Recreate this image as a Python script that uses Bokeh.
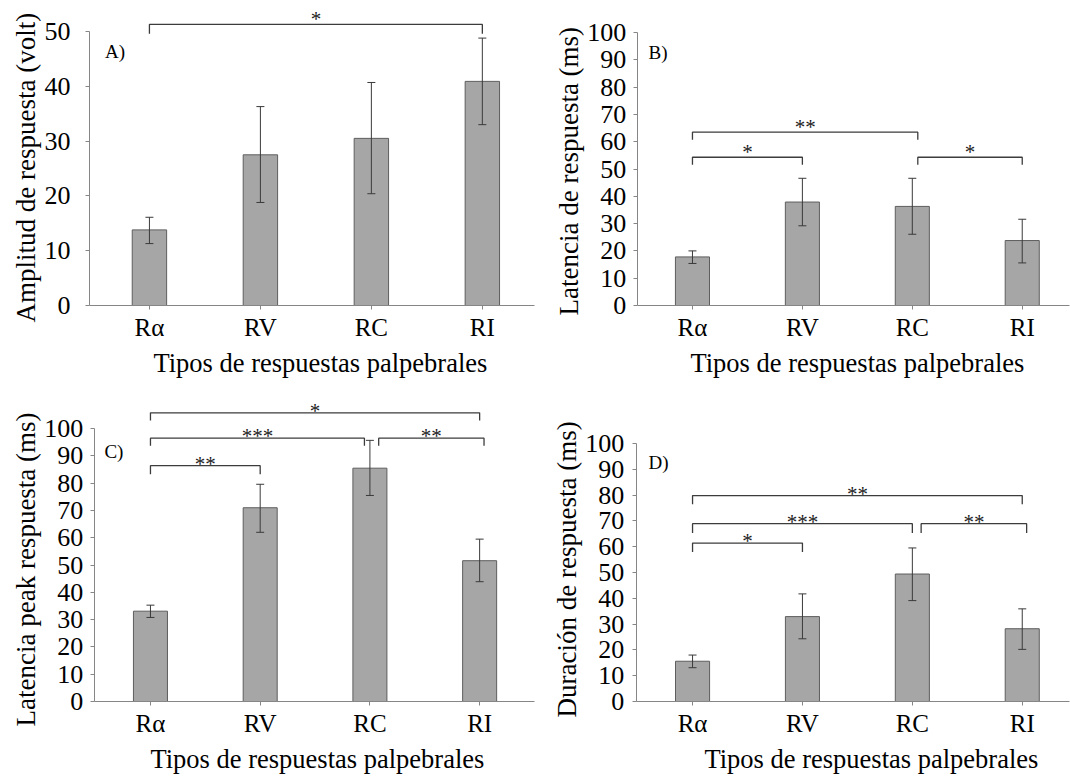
from bokeh.plotting import figure
from bokeh.layouts import column, row
from bokeh.models import Range1d, FixedTicker, Whisker, ColumnDataSource, TeeHead, Title
from bokeh.embed import file_html
from bokeh.resources import INLINE
from bokeh.core.properties import value

categories = ["Rα", "RV", "RC", "RI"]
x_title = "Tipos de respuestas palpebrales"

# Panel A: Amplitud de respuesta (volt)
amp_mean = [13.8, 27.5, 30.5, 40.9]
amp_lo = [11.3, 18.8, 20.4, 33.0]
amp_hi = [16.1, 36.3, 40.7, 48.8]
# Panel B: Latencia de respuesta (ms)
lat_mean = [17.8, 37.9, 36.3, 23.8]
lat_lo = [15.4, 29.2, 26.1, 15.6]
lat_hi = [20.0, 46.6, 46.6, 31.6]
# Panel C: Latencia peak respuesta (ms)
peak_mean = [33.1, 71.0, 85.5, 51.6]
peak_lo = [30.8, 62.0, 75.5, 43.9]
peak_hi = [35.3, 79.6, 95.7, 59.5]
# Panel D: Duración de respuesta (ms)
dur_mean = [15.6, 32.9, 49.4, 28.2]
dur_lo = [13.1, 24.3, 39.1, 20.2]
dur_hi = [18.0, 41.7, 59.5, 35.9]

# significance brackets (category positions 1..4)
amp_br_x1 = [1.0]
amp_br_x2 = [4.0]
amp_br_y = [51.3]
amp_br_foot = [49.6]
amp_br_lab = ["*"]

lat_br_x1 = [1.0, 1.0, 3.05]
lat_br_x2 = [3.05, 2.0, 4.0]
lat_br_y = [63.5, 54.3, 54.3]
lat_br_foot = [60.7, 51.6, 51.6]
lat_br_lab = ["**", "*", "*"]

peak_br_x1 = [1.0, 1.0, 3.08, 1.0]
peak_br_x2 = [4.0, 2.95, 4.04, 2.0]
peak_br_y = [105.8, 96.5, 96.5, 86.4]
peak_br_foot = [103.0, 93.7, 93.7, 83.3]
peak_br_lab = ["*", "***", "**", "**"]

dur_br_x1 = [1.0, 1.0, 3.08, 1.0]
dur_br_x2 = [4.0, 3.0, 4.04, 2.0]
dur_br_y = [79.8, 68.9, 68.9, 61.4]
dur_br_foot = [76.4, 65.3, 65.3, 57.9]
dur_br_lab = ["**", "***", "**", "*"]

FONT = "Liberation Serif"
AXIS_COL = "#868686"


def make_panel(means, lo, hi, br_x1, br_x2, br_y, br_foot, br_lab,
               ylabel, letter, letter_xy, ymax, ytop, xr, borders,
               tick_standoff, tick_pad, ylab_offset, xlab_offset, star_off):
    left, right, top, bottom = borders
    p = figure(width=535, height=392, x_range=Range1d(*xr), y_range=Range1d(0, ytop),
               output_backend="svg", toolbar_location=None,
               min_border_left=left, min_border_right=right,
               min_border_top=top, min_border_bottom=bottom)
    p.outline_line_color = None
    p.xgrid.visible = False
    p.ygrid.visible = False
    p.background_fill_color = "white"
    p.border_fill_color = "white"

    xs = [i + 1 for i in range(len(categories))]
    src = ColumnDataSource(dict(x=xs, top=means, lo=lo, hi=hi))
    p.vbar(x="x", top="top", width=0.31, source=src, fill_color="#a6a6a6",
           line_color="#5e5e5e", line_width=1)
    w = Whisker(base="x", upper="hi", lower="lo", source=src,
                line_color="#3a3a3a", line_width=1, level="overlay",
                upper_head=TeeHead(size=8, line_color="#3a3a3a", line_width=1),
                lower_head=TeeHead(size=8, line_color="#3a3a3a", line_width=1))
    p.add_layout(w)

    bxs = [[a, a, b, b] for a, b in zip(br_x1, br_x2)]
    bys = [[f, y, y, f] for y, f in zip(br_y, br_foot)]
    p.multi_line(xs=bxs, ys=bys, line_color="#3c3c3c", line_width=1.3)
    mids = [(a + b) / 2 for a, b in zip(br_x1, br_x2)]
    p.text(x=mids, y=br_y, text=br_lab, text_font=value(FONT), text_font_size="21px",
           text_align="center", text_baseline="alphabetic", y_offset=star_off,
           text_color="#222222")
    p.text(x=[letter_xy[0]], y=[letter_xy[1]], text=[letter], text_font=value(FONT),
           text_font_size="19px", text_align="left", text_baseline="top",
           text_color="black")

    # axes
    yticks = list(range(0, ymax + 1, 10))
    p.xaxis.ticker = FixedTicker(ticks=xs)
    p.xaxis.major_label_overrides = {x: c for x, c in zip(xs, categories)}
    p.yaxis.ticker = FixedTicker(ticks=yticks)
    p.yaxis.major_label_overrides = {t: f"{t}{tick_pad}" for t in yticks}
    p.yaxis.bounds = (0, ymax)
    for ax in (p.xaxis[0], p.yaxis[0]):
        ax.axis_line_color = AXIS_COL
        ax.axis_line_width = 1
        ax.major_tick_line_color = AXIS_COL
        ax.major_tick_in = 0
        ax.major_tick_out = 4
        ax.minor_tick_line_color = None
        ax.major_label_text_font = FONT
        ax.major_label_text_color = "black"
    p.xaxis[0].major_label_text_font_size = "25px"
    p.xaxis[0].major_label_standoff = 4
    p.yaxis[0].major_label_text_font_size = "26px"
    p.yaxis[0].major_label_standoff = tick_standoff

    ty = Title(text=ylabel, align="left", offset=ylab_offset, standoff=2,
               text_font=FONT, text_font_size="27px", text_font_style="normal",
               text_color="black")
    p.add_layout(ty, "left")
    tx = Title(text=x_title, align="left", offset=xlab_offset, standoff=4,
               text_font=FONT, text_font_size="26.5px", text_font_style="normal",
               text_color="black")
    p.add_layout(tx, "below")
    return p


pA = make_panel(amp_mean, amp_lo, amp_hi, amp_br_x1, amp_br_x2, amp_br_y, amp_br_foot, amp_br_lab,
                "Amplitud de respuesta (volt)", "A)", (0.6, 48.2), 50, 54.2, (0.46, 4.47),
                (89, 1, 8, 87), 2, "\u2002", -17, 64, -5)
pB = make_panel(lat_mean, lat_lo, lat_hi, lat_br_x1, lat_br_x2, lat_br_y, lat_br_foot, lat_br_lab,
                "Latencia de respuesta (ms)", "B)", (0.6, 96.7), 100, 108.8, (0.5, 4.43),
                (102, 1, 8, 87), 2, "\u2009", -10, 53, -5)
pC = make_panel(peak_mean, peak_lo, peak_hi, peak_br_x1, peak_br_x2, peak_br_y, peak_br_foot, peak_br_lab,
                "Latencia peak respuesta (ms)", "C)", (0.58, 95.6), 100, 111.4, (0.49, 4.5),
                (94, 1, 5, 83), 2, "\u2009", -25, 56, -2)
pD = make_panel(dur_mean, dur_lo, dur_hi, dur_br_x1, dur_br_x2, dur_br_y, dur_br_foot, dur_br_lab,
                "Duración de respuesta (ms)", "D)", (0.6, 96.5), 100, 117.8, (0.49, 4.43),
                (101, 1, 5, 82), 3, "\u2009", -16, 68, -2)

layout = column(row(pA, pB), row(pC, pD))
open("out.html", "w").write(file_html(layout, INLINE))
